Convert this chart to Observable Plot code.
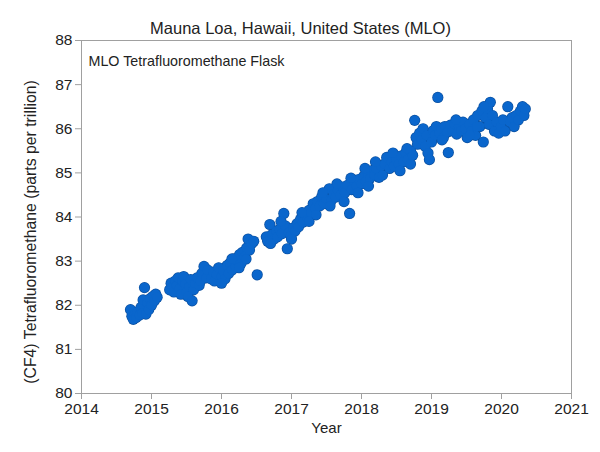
<!DOCTYPE html>
<html>
<head>
<meta charset="utf-8">
<script src="https://cdn.jsdelivr.net/npm/d3@7"></script>
<script src="https://cdn.jsdelivr.net/npm/@observablehq/plot@0.6"></script>
<style>
  html, body { margin: 0; padding: 0; background: #fff; }
</style>
</head>
<body>
<div id="chart"></div>
<script>
const titleText = "Mauna Loa, Hawaii, United States (MLO)";
const subtitleText = "MLO Tetrafluoromethane Flask";
const xLabel = "Year";
const yLabel = "(CF4) Tetrafluoromethane (parts per trillion)";
const xTicks = [2014, 2015, 2016, 2017, 2018, 2019, 2020, 2021];
const yTicks = [80, 81, 82, 83, 84, 85, 86, 87, 88];

const years = [
  2014.70, 2014.72, 2014.74, 2014.76, 2014.78, 2014.80, 2014.83, 2014.85, 2014.87, 2014.88,
  2014.90, 2014.92, 2014.94, 2014.96, 2014.98, 2015.00, 2015.02, 2015.04, 2015.06, 2015.08,
  2015.26, 2015.28, 2015.30, 2015.32, 2015.34, 2015.36, 2015.38, 2015.40, 2015.42, 2015.44,
  2015.46, 2015.48, 2015.50, 2015.52, 2015.54, 2015.56, 2015.58, 2015.60, 2015.62, 2015.65,
  2015.68, 2015.70, 2015.72, 2015.75, 2015.78, 2015.80,
  2015.85, 2015.88, 2015.90, 2015.93, 2015.96, 2016.00, 2016.02, 2016.05, 2016.08, 2016.10,
  2016.12, 2016.15, 2016.18, 2016.20, 2016.23, 2016.26, 2016.28, 2016.30, 2016.33, 2016.36,
  2016.38, 2016.40, 2016.43, 2016.46, 2016.51, 2016.00, 2016.15, 2016.25, 2016.35,
  2016.64, 2016.66, 2016.69, 2016.72, 2016.75, 2016.78, 2016.80, 2016.83, 2016.86, 2016.89,
  2016.91, 2016.94, 2016.96, 2016.99, 2017.02, 2017.05, 2017.08, 2017.10, 2017.13, 2017.16,
  2017.19, 2017.22, 2017.25, 2017.28, 2017.31, 2016.70, 2016.85, 2017.00, 2017.15, 2017.25,
  2017.34, 2017.37, 2017.40, 2017.43, 2017.46, 2017.50, 2017.54, 2017.57, 2017.60, 2017.63,
  2017.66, 2017.70, 2017.73, 2017.76, 2017.80, 2017.83, 2017.86, 2017.90, 2017.93, 2017.96,
  2018.00, 2018.03, 2018.06, 2018.09, 2018.12, 2018.15, 2018.18, 2018.21, 2018.25, 2018.28,
  2018.33, 2018.36, 2018.40, 2018.43, 2018.46, 2018.50, 2018.53, 2018.56, 2018.60, 2018.63,
  2018.66, 2018.70, 2018.73,
  2017.35, 2017.45, 2017.55, 2017.65, 2017.75, 2017.85, 2017.95, 2018.05, 2018.10, 2018.20,
  2018.30, 2018.45, 2018.55, 2018.65, 2018.70,
  2018.76, 2018.78, 2018.80, 2018.83, 2018.86, 2018.88, 2018.91, 2018.93, 2018.95, 2018.97,
  2019.00, 2019.02, 2019.05, 2019.07, 2019.09, 2019.11, 2019.14, 2019.17, 2019.19, 2019.22,
  2019.24, 2019.27, 2019.30, 2019.33, 2019.36, 2019.39, 2019.42, 2019.45, 2019.48, 2019.51,
  2019.54, 2019.57, 2019.60, 2019.63, 2019.66, 2019.69, 2019.72, 2019.74, 2019.77, 2019.80,
  2019.82, 2019.84, 2019.87, 2019.90, 2019.93, 2019.96, 2019.99, 2020.02, 2020.05, 2020.09,
  2020.12, 2020.15, 2020.18, 2020.21, 2020.24, 2020.27, 2020.30, 2020.32, 2020.34,
  2019.15, 2019.35, 2019.55, 2019.65, 2019.75
];
const cf4 = [
  81.90, 81.75, 81.68, 81.80, 81.72, 81.85, 81.78, 81.95, 81.82, 82.12,
  82.40, 81.80, 82.05, 81.90, 82.15, 82.00, 82.20, 82.10, 82.25, 82.18,
  82.35, 82.50, 82.42, 82.30, 82.55, 82.45, 82.62, 82.38, 82.25, 82.55,
  82.65, 82.48, 82.30, 82.20, 82.42, 82.58, 82.10, 82.35, 82.50, 82.62,
  82.45, 82.55, 82.72, 82.88, 82.62, 82.80,
  82.60, 82.75, 82.55, 82.70, 82.85, 82.65, 82.78, 82.60, 82.90, 82.72,
  82.95, 82.80, 83.05, 82.88, 83.00, 83.15, 82.95, 83.20, 83.10, 83.30,
  83.50, 83.25, 83.40, 83.45, 82.69, 82.50, 83.05, 82.85, 83.05,
  83.55, 83.45, 83.83, 83.60, 83.50, 83.68, 83.55, 83.72, 83.62, 84.08,
  83.80, 83.28, 83.65, 83.58, 83.75, 83.68, 83.85, 83.78, 83.95, 83.88,
  84.05, 84.00, 84.15, 84.10, 84.30, 83.40, 83.90, 83.50, 84.10, 83.90,
  84.20, 84.35, 84.25, 84.45, 84.30, 84.40, 84.64, 84.38, 84.52, 84.45,
  84.60, 84.50, 84.68, 84.55, 84.72, 84.08, 84.62, 84.78, 84.70, 84.85,
  84.75, 84.92, 84.80, 84.98, 84.88, 85.05, 84.95, 85.10, 84.90, 85.15,
  85.20, 85.35, 85.10, 85.25, 85.15, 85.30, 85.20, 85.38, 85.25, 85.45,
  85.30, 85.50, 85.40,
  84.05, 84.55, 84.25, 84.75, 84.35, 84.88, 84.55, 85.10, 84.70, 85.25,
  84.95, 85.45, 85.05, 85.55, 85.20,
  86.19, 85.80, 85.65, 85.90, 85.75, 86.00, 85.60, 85.85, 85.45, 85.30,
  85.70, 85.95, 85.85, 86.05, 86.71, 85.90, 86.00, 85.80, 86.05, 85.92,
  85.46, 86.08, 85.95, 86.10, 85.88, 86.05, 85.95, 86.15, 86.00, 85.80,
  86.10, 85.95, 86.20, 85.85, 86.30, 86.05, 86.40, 85.70, 86.25, 86.45,
  86.10, 86.60, 86.30, 85.95, 86.15, 85.90, 86.05, 86.20, 85.95, 86.50,
  86.15, 86.25, 86.05, 86.30, 86.20, 86.40, 86.50, 86.30, 86.45,
  85.75, 86.20, 85.85, 86.05, 86.50
];

const data = years.map((y, i) => ({year: y, value: cf4[i]}));

const font = "'Liberation Sans', Arial, sans-serif";
const chart = Plot.plot({
  width: 600,
  height: 452,
  marginLeft: 81,
  marginRight: 29,
  marginTop: 40,
  marginBottom: 59,
  style: {fontFamily: font, fontSize: "15.5px", color: "#222", background: "#fff"},
  x: {domain: [2014, 2021]},
  y: {domain: [80, 88]},
  marks: [
    Plot.frame({stroke: "#a0a0a0"}),
    Plot.axisX({ticks: xTicks, tickFormat: d => String(d), tickSize: 6, tickPadding: 3, stroke: "#a0a0a0", fill: "#222", fontSize: 15.5, label: null}),
    Plot.axisY({ticks: yTicks, tickFormat: d => String(d), tickSize: 6, tickPadding: 3, stroke: "#a0a0a0", fill: "#222", fontSize: 15.5, label: null}),
    Plot.dot(data, {x: "year", y: "value", r: 5.6, fill: "#0b50a0"}),
    Plot.dot(data, {x: "year", y: "value", r: 4.9, fill: "#0a66cc"}),
    Plot.text([titleText], {frameAnchor: "top", dx: -26, dy: -18, fontSize: 16.5, fill: "#222"}),
    Plot.text([subtitleText], {frameAnchor: "top-left", dx: 7, dy: 15, textAnchor: "start", fontSize: 14.3, fill: "#222"}),
    Plot.text([xLabel], {frameAnchor: "bottom", dy: 39, fontSize: 15, fill: "#222"})
  ]
});
d3.select(chart).append("text")
  .attr("transform", "translate(32,232) rotate(-90)")
  .attr("text-anchor", "middle")
  .attr("dominant-baseline", "middle")
  .attr("font-family", font)
  .attr("font-size", 15.8)
  .attr("fill", "#222")
  .text(yLabel);
document.getElementById("chart").appendChild(chart);
</script>
</body>
</html>
